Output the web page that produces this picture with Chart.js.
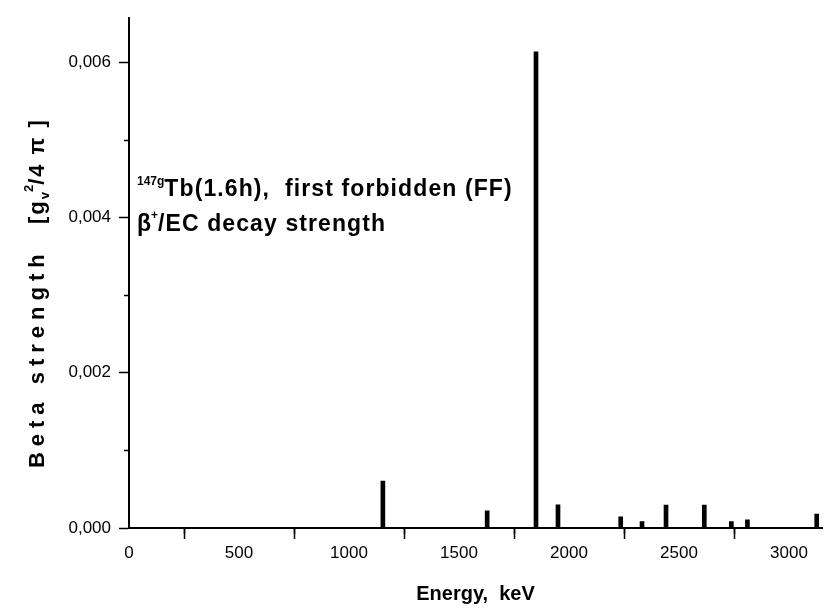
<!DOCTYPE html>
<html>
<head>
<meta charset="utf-8">
<script src="https://cdn.jsdelivr.net/npm/chart.js@4.4.0/dist/chart.umd.min.js"></script>
<style>
  html, body { margin: 0; padding: 0; background: #fff; }
  #wrap { width: 824px; height: 610px; position: relative; }
</style>
</head>
<body>
<div id="wrap"><canvas id="betaChart"></canvas></div>
<script>
// level energies (keV) and beta strengths
var energies  = [1154, 1628, 1850, 1950, 2235, 2332, 2441, 2615, 2738, 2811, 3126];
var strengths = [0.000604, 0.000221, 0.006135, 0.000297, 0.000144, 0.000084, 0.000294, 0.000294, 0.000084, 0.000106, 0.000179];
var xTicks = [0, 500, 1000, 1500, 2000, 2500, 3000];
var yTicks = [0, 0.002, 0.004, 0.006];
var xMinor = [250, 750, 1250, 1750, 2250, 2750];
var yMinor = [0.001, 0.003, 0.005];

var FONT = "'Liberation Sans', Arial, sans-serif";

// draws a run of text pieces (with sub/superscripts) along a baseline
function drawRun(ctx, x, y, pieces, center) {
    var total = 0;
    pieces.forEach(function(p) {
        ctx.font = p.font;
        for (var i = 0; i < p.t.length; i++) total += ctx.measureText(p.t[i]).width + (p.sp || 0);
    });
    var cx = center ? x - total / 2 : x;
    pieces.forEach(function(p) {
        ctx.font = p.font;
        for (var i = 0; i < p.t.length; i++) {
            ctx.fillText(p.t[i], cx, y + (p.dy || 0));
            cx += ctx.measureText(p.t[i]).width + (p.sp || 0);
        }
    });
}

var extras = {
    id: 'extras',
    afterDraw: function(chart) {
        var ctx = chart.ctx;
        var xs = chart.scales.x, ys = chart.scales.y;
        var area = chart.chartArea;
        ctx.save();
        // minor ticks
        ctx.strokeStyle = '#000';
        ctx.lineWidth = 1.5;
        ctx.beginPath();
        xMinor.forEach(function(v) {
            var px = Math.round(xs.getPixelForValue(v)) + 0.5;
            ctx.moveTo(px, area.bottom); ctx.lineTo(px, area.bottom + 6);
        });
        yMinor.forEach(function(v) {
            var py = Math.round(ys.getPixelForValue(v)) + 0.5;
            ctx.moveTo(area.left, py); ctx.lineTo(area.left - 5, py);
        });
        ctx.stroke();

        ctx.fillStyle = '#000';
        ctx.textBaseline = 'alphabetic';
        ctx.textAlign = 'left';
        // annotation
        var ax = area.left + 8, ay = area.top + 178;
        drawRun(ctx, ax, ay, [
            { t: '147', font: 'bold 12px ' + FONT, dy: -11 },
            { t: 'g', font: 'bold 12px ' + FONT, dy: -11 },
            { t: 'Tb(1.6h),  first forbidden (FF)', font: 'bold 23px ' + FONT, sp: 1.1 }
        ]);
        drawRun(ctx, ax, ay + 35, [
            { t: 'β', font: 'bold 23px ' + FONT },
            { t: '+', font: 'bold 12px ' + FONT, dy: -12 },
            { t: '/EC decay strength', font: 'bold 23px ' + FONT, sp: 1.1 }
        ]);

        // y axis title
        ctx.translate(44, (area.top + area.bottom) / 2 + 20);
        ctx.rotate(-Math.PI / 2);
        var f = 'bold 22px ' + FONT, fs = 'bold 13px ' + FONT;
        drawRun(ctx, 0, 0, [
            { t: 'Beta strength  ', font: f, sp: 6 },
            { t: '[g', font: f, sp: 2 },
            { t: 'v', font: fs, dy: 5 },
            { t: '2', font: fs, dy: -11 },
            { t: '/4', font: f, sp: 2 },
            { t: ' π ]', font: f, sp: 2 }
        ], true);
        ctx.restore();
    }
};

new Chart(document.getElementById('betaChart'), {
    type: 'bar',
    data: {
        datasets: [{
            data: energies.map(function(e, i) { return { x: e, y: strengths[i] }; }),
            backgroundColor: '#000',
            barThickness: 4
        }]
    },
    options: {
        responsive: true,
        maintainAspectRatio: false,
        animation: false,
        plugins: { legend: { display: false }, tooltip: { enabled: false } },
        layout: { padding: { left: 0, top: 13, right: 2, bottom: 0 } },
        scales: {
            x: {
                type: 'linear',
                min: 0,
                max: 3150,
                offset: false,
                grid: { drawOnChartArea: false, drawTicks: true, tickLength: 11, tickWidth: 1.5, tickColor: '#000' },
                border: { display: true, color: '#000', width: 2 },
                afterBuildTicks: function(scale) { scale.ticks = xTicks.map(function(v) { return { value: v }; }); },
                ticks: {
                    color: '#000', font: { family: FONT, size: 17 }, padding: 4, maxRotation: 0,
                    callback: function(v) { return String(v); }
                },
                title: { display: true, text: 'Energy,  keV', color: '#000', font: { family: FONT, size: 20, weight: 'bold' }, padding: { top: 0, bottom: 4 } },
                afterFit: function(scale) { scale.height = 82; }
            },
            y: {
                min: 0,
                max: 0.00657,
                grid: { drawOnChartArea: false, drawTicks: true, tickLength: 10, tickWidth: 1.5, tickColor: '#000' },
                border: { display: true, color: '#000', width: 2 },
                afterBuildTicks: function(scale) { scale.ticks = yTicks.map(function(v) { return { value: v }; }); },
                ticks: {
                    color: '#000', font: { family: FONT, size: 17 }, padding: 8,
                    callback: function(v) { return v.toFixed(3).replace('.', ','); }
                },
                afterFit: function(scale) { scale.width = 129; }
            }
        }
    },
    plugins: [extras]
});
</script>
</body>
</html>
